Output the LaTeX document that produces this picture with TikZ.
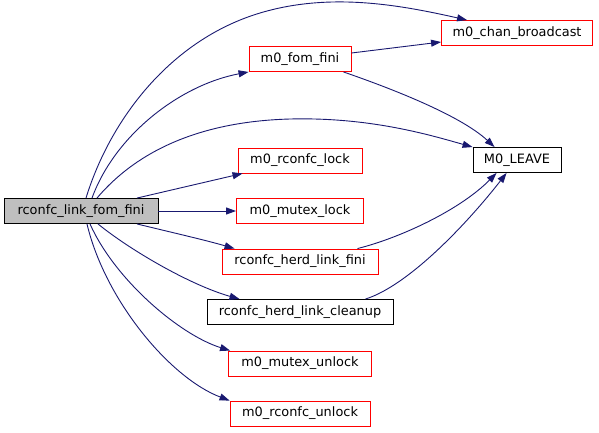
\documentclass[tikz,border=0pt]{standalone}
\usepackage{fontspec}
\setmainfont{DejaVu Sans}
\usetikzlibrary{arrows.meta}
\definecolor{edgeblue}{HTML}{191970}
\definecolor{boxred}{HTML}{FF0000}
\definecolor{maingrey}{HTML}{BFBFBF}
\begin{document}
\begin{tikzpicture}[x=1pt,y=-1pt,
  fn/.style={draw=boxred,fill=white,line width=0.9pt,minimum height=25pt,inner sep=0pt,font=\fontsize{12.9}{15}\selectfont},
  fnb/.style={fn,draw=black},
  mainbox/.style={fn,draw=black,fill=maingrey},
  call/.style={draw=edgeblue,line width=0.9pt,-{Triangle[length=10pt,width=7pt]}, fill=none}]
\useasboundingbox (0,0) rectangle (599,432);
\node[mainbox,minimum width=154pt] (main) at (81,211) {rconfc\_link\_fom\_fini};
\node[fn,minimum width=151pt] (chan) at (517,33) {m0\_chan\_broadcast};
\node[fn,minimum width=102pt] (fom) at (300,59) {m0\_fom\_fini};
\node[fnb,minimum width=88pt] (leave) at (517,160) {M0\_LEAVE};
\node[fn,minimum width=124pt] (rlock) at (300,160.5) {m0\_rconfc\_lock};
\node[fn,minimum width=127pt] (mlock) at (300,211) {m0\_mutex\_lock};
\node[fn,minimum width=156pt] (hfini) at (300,261.5) {rconfc\_herd\_link\_fini};
\node[fnb,minimum width=186pt] (hclean) at (300,312) {rconfc\_herd\_link\_cleanup};
\node[fn,minimum width=143pt] (munlock) at (300,363.5) {m0\_mutex\_unlock};
\node[fn,minimum width=140pt] (runlock) at (300,413.5) {m0\_rconfc\_unlock};
% from main
\draw[call] ([xshift=5pt]main.north) .. controls (110,120) and (170,40) .. (260,13)
  .. controls (330,-8) and (400,5) .. ([xshift=26pt]chan.north west);
\draw[call] ([xshift=11pt]main.north) .. controls (115,135) and (180,85) .. (fom.south west);
\draw[call] ([xshift=16pt]main.north) .. controls (125,165) and (180,122) .. (290,119)
  .. controls (370,117) and (430,135) .. (leave.north west);
\draw[call] ([xshift=56pt]main.north) -- ([xshift=5pt]rlock.south west);
\draw[call] (main.east) -- (mlock.west);
\draw[call] ([xshift=56pt]main.south) .. controls (170,232) and (205,240) .. ([xshift=13pt]hfini.north west);
\draw[call] ([xshift=17pt]main.south) .. controls (130,250) and (190,285) .. ([xshift=33pt]hclean.north west);
\draw[call] ([xshift=9pt]main.south) .. controls (115,280) and (180,335) .. ([xshift=2pt]munlock.north west);
\draw[call] ([xshift=6pt]main.south) .. controls (105,300) and (170,378) .. (runlock.north west);
% others
\draw[call] ([yshift=6pt]fom.east) -- ([yshift=-9pt]chan.west);
\draw[call] ([xshift=-8pt]fom.south east) .. controls (390,88) and (460,115) .. ([xshift=22pt]leave.north west);
\draw[call] ([xshift=-21pt]hfini.north east) .. controls (400,238) and (460,210) .. ([xshift=24pt]leave.south west);
\draw[call] ([xshift=-28pt]hclean.north east) .. controls (410,285) and (470,220) .. ([xshift=34pt]leave.south west);
\end{tikzpicture}
\end{document}
